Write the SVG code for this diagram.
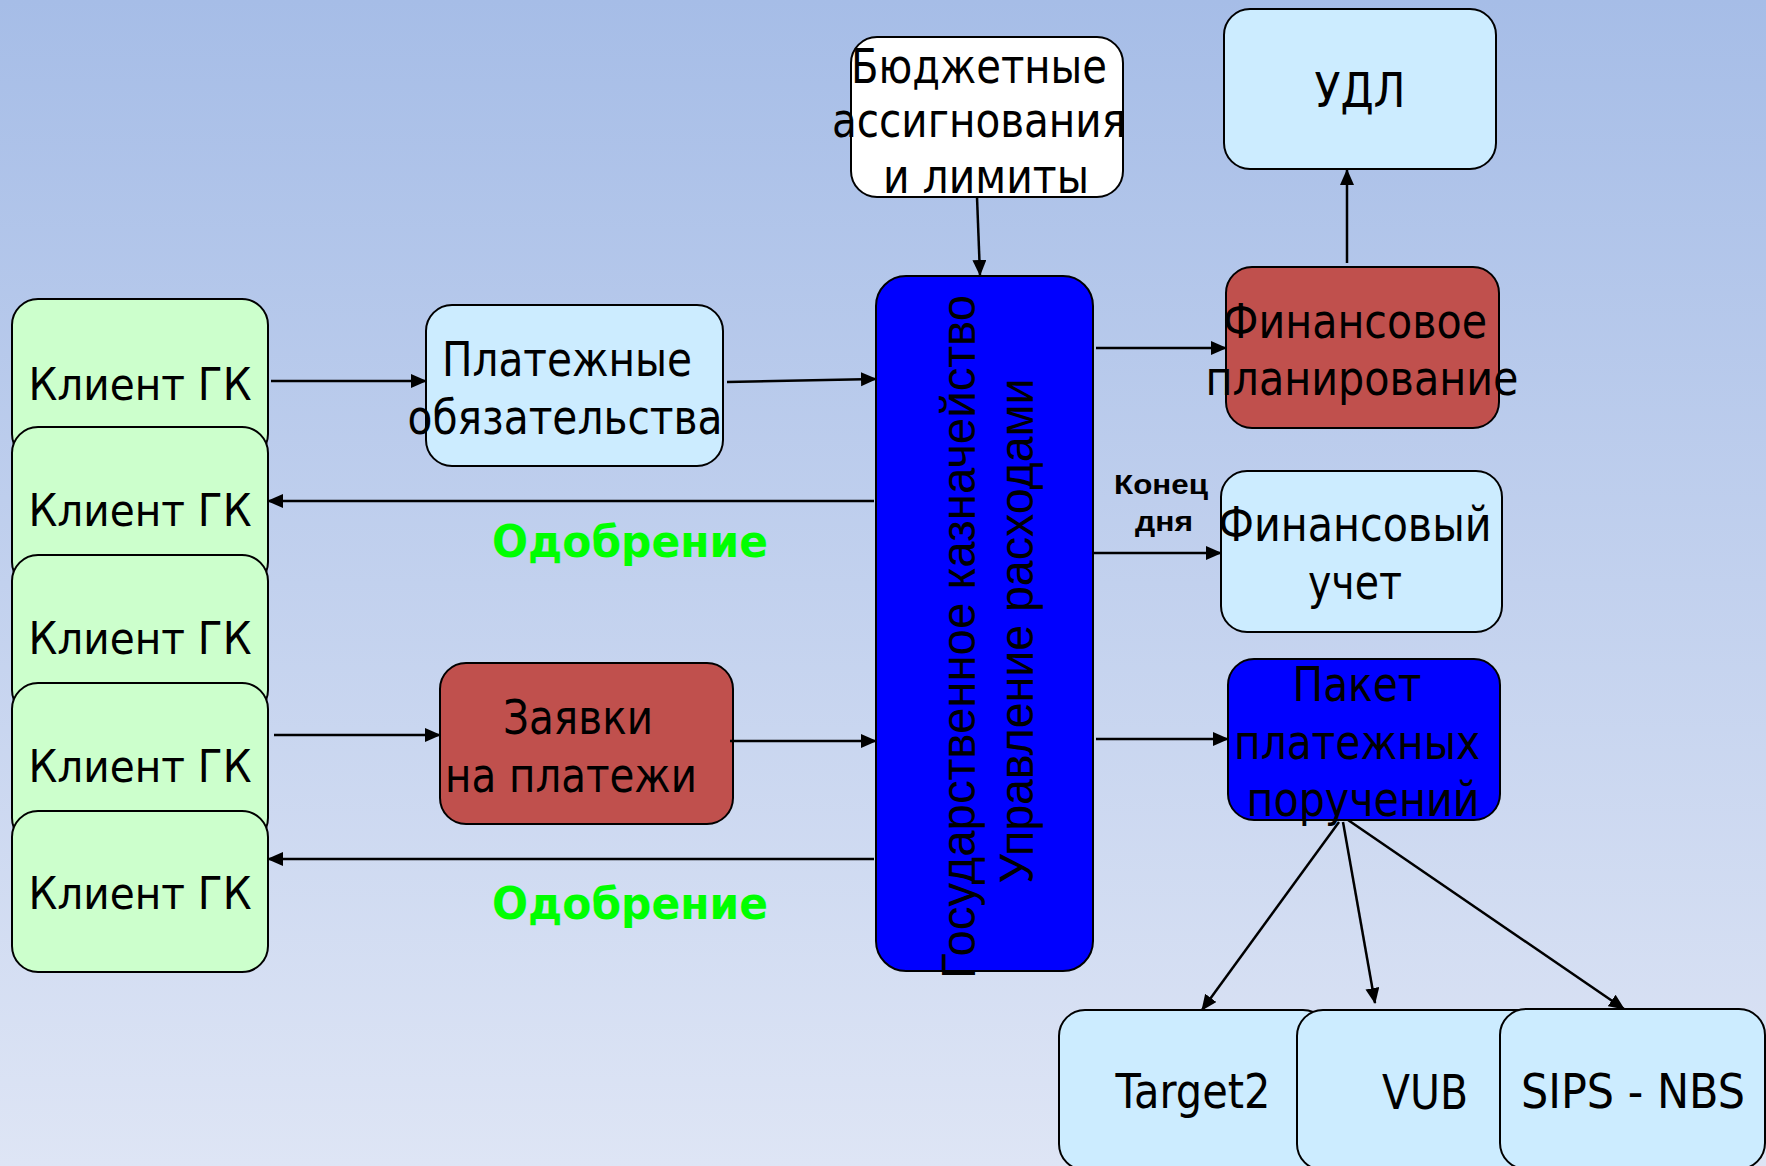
<svg xmlns="http://www.w3.org/2000/svg" width="1766" height="1166" viewBox="0 0 1766 1166">
<defs>
<linearGradient id="bg" x1="0" y1="0" x2="0" y2="1">
<stop offset="0" stop-color="#A6BDE7"/>
<stop offset="1" stop-color="#DEE5F5"/>
</linearGradient>
<marker id="ah" markerUnits="userSpaceOnUse" markerWidth="17" markerHeight="15" refX="15" refY="7" orient="auto">
<path d="M0,0 L16,7 L0,14 z" fill="#000"/>
</marker>
<style>
.box{stroke:#000;stroke-width:2}
.green{fill:#CCFFCC}
.lblue{fill:#CCECFF}
.red{fill:#C0504D}
.blue{fill:#0000FF}
.white{fill:#FFFFFF}
.t{font-family:"DejaVu Sans","Liberation Sans",sans-serif;font-size:48px;fill:#000;text-anchor:middle}
.tc{font-family:"DejaVu Sans","Liberation Sans",sans-serif;font-size:45px;fill:#000;text-anchor:middle}
.rot{font-family:"Liberation Sans",Arial,sans-serif;font-size:48px;fill:#000;text-anchor:middle}
.ok{font-family:"DejaVu Sans","Liberation Sans",sans-serif;font-weight:bold;font-size:44px;fill:#00FF00;text-anchor:middle}
.small{font-family:"Liberation Sans",Arial,sans-serif;font-weight:bold;font-size:28px;fill:#000;text-anchor:middle}
.c{stroke:#000;stroke-width:2.5;fill:none;marker-end:url(#ah)}
</style>
</defs>
<rect x="0" y="0" width="1766" height="1166" fill="url(#bg)"/>

<g id="client1"><rect class="box green" x="12" y="299" width="256" height="161" rx="26"/><text class="tc" x="140" y="400" textLength="223" lengthAdjust="spacingAndGlyphs">Клиент ГК</text></g>
<g id="client2"><rect class="box green" x="12" y="427" width="256" height="161" rx="26"/><text class="tc" x="140" y="526" textLength="223" lengthAdjust="spacingAndGlyphs">Клиент ГК</text></g>
<g id="client3"><rect class="box green" x="12" y="555" width="256" height="161" rx="26"/><text class="tc" x="140" y="654" textLength="223" lengthAdjust="spacingAndGlyphs">Клиент ГК</text></g>
<g id="client4"><rect class="box green" x="12" y="683" width="256" height="161" rx="26"/><text class="tc" x="140" y="782" textLength="223" lengthAdjust="spacingAndGlyphs">Клиент ГК</text></g>
<g id="client5"><rect class="box green" x="12" y="811" width="256" height="161" rx="26"/><text class="tc" x="140" y="909" textLength="223" lengthAdjust="spacingAndGlyphs">Клиент ГК</text></g>

<g id="obligations"><rect class="box lblue" x="426" y="305" width="297" height="161" rx="26"/>
<text class="t" x="567" y="376" textLength="250" lengthAdjust="spacingAndGlyphs">Платежные</text>
<text class="t" x="565" y="434" textLength="315" lengthAdjust="spacingAndGlyphs">обязательства</text></g>

<g id="requests"><rect class="box red" x="440" y="663" width="293" height="161" rx="26"/>
<text class="t" x="578" y="734" textLength="150" lengthAdjust="spacingAndGlyphs">Заявки</text>
<text class="t" x="571" y="792" textLength="252" lengthAdjust="spacingAndGlyphs">на платежи</text></g>

<g id="treasury"><rect class="box blue" x="876" y="276" width="217" height="695" rx="30"/>
<text class="rot" transform="translate(975,637) rotate(-90)" x="0" y="0" textLength="684" lengthAdjust="spacingAndGlyphs">Государственное казначейство</text>
<text class="rot" transform="translate(1033,631) rotate(-90)" x="0" y="0" textLength="505" lengthAdjust="spacingAndGlyphs">Управление расходами</text></g>

<g id="budget"><rect class="box white" x="851" y="37" width="272" height="160" rx="26"/>
<text class="t" x="979" y="83" font-size="50" textLength="256" lengthAdjust="spacingAndGlyphs">Бюджетные</text>
<text class="t" x="979" y="137" font-size="50" textLength="294" lengthAdjust="spacingAndGlyphs">ассигнования</text>
<text class="t" x="986" y="193" font-size="50" textLength="206" lengthAdjust="spacingAndGlyphs">и лимиты</text></g>

<g id="udl"><rect class="box lblue" x="1224" y="9" width="272" height="160" rx="26"/>
<text class="t" x="1360" y="107" font-size="50" textLength="91" lengthAdjust="spacingAndGlyphs">УДЛ</text></g>

<g id="finplan"><rect class="box red" x="1226" y="267" width="273" height="161" rx="26"/>
<text class="t" x="1355" y="338" textLength="264" lengthAdjust="spacingAndGlyphs">Финансовое</text>
<text class="t" x="1362" y="395" textLength="313" lengthAdjust="spacingAndGlyphs">планирование</text></g>

<g id="finacc"><rect class="box lblue" x="1221" y="471" width="281" height="161" rx="26"/>
<text class="t" x="1355" y="541" textLength="273" lengthAdjust="spacingAndGlyphs">Финансовый</text>
<text class="t" x="1355" y="599" textLength="94" lengthAdjust="spacingAndGlyphs">учет</text></g>

<g id="packet"><rect class="box blue" x="1228" y="659" width="272" height="161" rx="26"/>
<text class="t" x="1357" y="701" textLength="129" lengthAdjust="spacingAndGlyphs">Пакет</text>
<text class="t" x="1357" y="759" textLength="246" lengthAdjust="spacingAndGlyphs">платежных</text>
<text class="t" x="1363" y="816" textLength="233" lengthAdjust="spacingAndGlyphs">поручений</text></g>

<g id="target2"><rect class="box lblue" x="1059" y="1010" width="270" height="160" rx="26"/>
<text class="t" x="1193" y="1108" textLength="155" lengthAdjust="spacingAndGlyphs">Target2</text></g>
<g id="vub"><rect class="box lblue" x="1297" y="1010" width="270" height="160" rx="26"/>
<text class="t" x="1425" y="1109" textLength="86" lengthAdjust="spacingAndGlyphs">VUB</text></g>
<g id="sips"><rect class="box lblue" x="1500" y="1009" width="265" height="160" rx="26"/>
<text class="t" x="1633" y="1108" textLength="224" lengthAdjust="spacingAndGlyphs">SIPS - NBS</text></g>

<g id="connectors">
<line class="c" x1="271" y1="381" x2="426" y2="381"/>
<line class="c" x1="727" y1="382" x2="876" y2="379"/>
<line class="c" x1="874" y1="501" x2="268" y2="501"/>
<line class="c" x1="274" y1="735" x2="440" y2="735"/>
<line class="c" x1="730" y1="741" x2="876" y2="741"/>
<line class="c" x1="874" y1="859" x2="268" y2="859"/>
<line class="c" x1="977" y1="197" x2="980" y2="275"/>
<line class="c" x1="1096" y1="348" x2="1226" y2="348"/>
<line class="c" x1="1347" y1="263" x2="1347" y2="170"/>
<line class="c" x1="1092" y1="553" x2="1221" y2="553"/>
<line class="c" x1="1096" y1="739" x2="1228" y2="739"/>
<line class="c" x1="1339" y1="822" x2="1202" y2="1010"/>
<line class="c" x1="1343" y1="822" x2="1375" y2="1003"/>
<line class="c" x1="1348" y1="820" x2="1624" y2="1009"/>
</g>

<g id="labels">
<text class="ok" x="630" y="557" textLength="276" lengthAdjust="spacingAndGlyphs">Одобрение</text>
<text class="ok" x="630" y="919" textLength="276" lengthAdjust="spacingAndGlyphs">Одобрение</text>
<text class="small" x="1161" y="494" textLength="94" lengthAdjust="spacingAndGlyphs">Конец</text>
<text class="small" x="1164" y="531" textLength="58" lengthAdjust="spacingAndGlyphs">дня</text>
</g>
</svg>
